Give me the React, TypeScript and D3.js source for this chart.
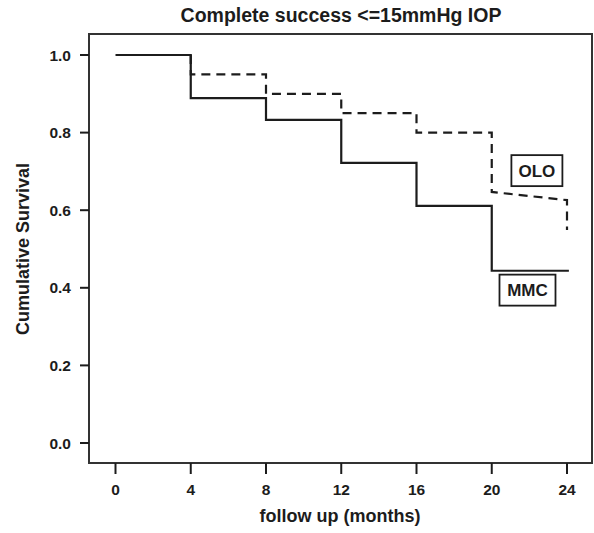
import React from "react";
import * as d3 from "d3";

const title = "Complete success <=15mmHg IOP";
const xTicks = [0, 4, 8, 12, 16, 20, 24];
const yTicks = [0.0, 0.2, 0.4, 0.6, 0.8, 1.0];
const xLabel = "follow up (months)";
const yLabel = "Cumulative Survival";

// [month, survival] vertices of each curve
const mmcPoints: [number, number][] = [
  [0, 1.0], [4, 1.0], [4, 0.889], [8, 0.889], [8, 0.833], [12, 0.833],
  [12, 0.722], [16, 0.722], [16, 0.611], [20, 0.611], [20, 0.444], [24.1, 0.444],
];
const oloPoints: [number, number][] = [
  [4, 1.0], [4, 0.95], [8, 0.95], [8, 0.9], [12, 0.9], [12, 0.85],
  [16, 0.85], [16, 0.8], [20, 0.8], [20, 0.647], [24, 0.626], [24, 0.549],
];
const seriesLabels = [
  { name: "OLO", x: 22.4, y: 0.702, w: 51 },
  { name: "MMC", x: 21.9, y: 0.394, w: 56 },
];

const W = 594, H = 533;
const box = { left: 89, right: 592, top: 34, bottom: 463 };

export default function App() {
  const x = d3.scaleLinear().domain([0, 24]).range([115.5, 567]);
  const y = d3.scaleLinear().domain([0, 1]).range([443, 55]);
  const line = d3.line<[number, number]>().x((d) => x(d[0])).y((d) => y(d[1]));
  const ink = "#1c1c1c";
  const font = "Arial, 'Liberation Sans', sans-serif";
  return (
    <svg width={W} height={H} style={{ position: "absolute", left: 0, top: 0, background: "#fff" }} fontFamily={font}>
      <rect x={0} y={0} width={W} height={H} fill="#fff" />
      <text x={341} y={22} textAnchor="middle" fontSize={19.5} fontWeight="bold" fill={ink}>{title}</text>
      <rect x={box.left} y={box.top} width={box.right - box.left} height={box.bottom - box.top} fill="none" stroke="#333" strokeWidth={2} />
      {yTicks.map((t) => (
        <g key={t}>
          <line x1={box.left - 9} x2={box.left} y1={y(t)} y2={y(t)} stroke={ink} strokeWidth={2} />
          <text x={71} y={y(t)} dy="0.36em" textAnchor="end" fontSize={15.5} fontWeight="bold" fill={ink}>{t.toFixed(1)}</text>
        </g>
      ))}
      {xTicks.map((t) => (
        <g key={t}>
          <line x1={x(t)} x2={x(t)} y1={box.bottom} y2={box.bottom + 11} stroke={ink} strokeWidth={2} />
          <text x={x(t)} y={495} textAnchor="middle" fontSize={15.5} fontWeight="bold" fill={ink}>{t}</text>
        </g>
      ))}
      <text x={340} y={522} textAnchor="middle" fontSize={18} fontWeight="bold" fill={ink}>{xLabel}</text>
      <text transform={`translate(29,${249}) rotate(-90)`} textAnchor="middle" fontSize={18} fontWeight="bold" fill={ink}>{yLabel}</text>
      <path d={line(oloPoints) || ""} fill="none" stroke={ink} strokeWidth={2.2} strokeDasharray="9,6" />
      <path d={line(mmcPoints) || ""} fill="none" stroke={ink} strokeWidth={2.2} />
      {seriesLabels.map((s) => (
        <g key={s.name}>
          <rect x={x(s.x) - s.w / 2} y={y(s.y) - 15.5} width={s.w} height={31} fill="#fff" stroke={ink} strokeWidth={1.8} />
          <text x={x(s.x)} y={y(s.y)} dy="0.36em" textAnchor="middle" fontSize={17} fontWeight="bold" fill={ink}>{s.name}</text>
        </g>
      ))}
    </svg>
  );
}
